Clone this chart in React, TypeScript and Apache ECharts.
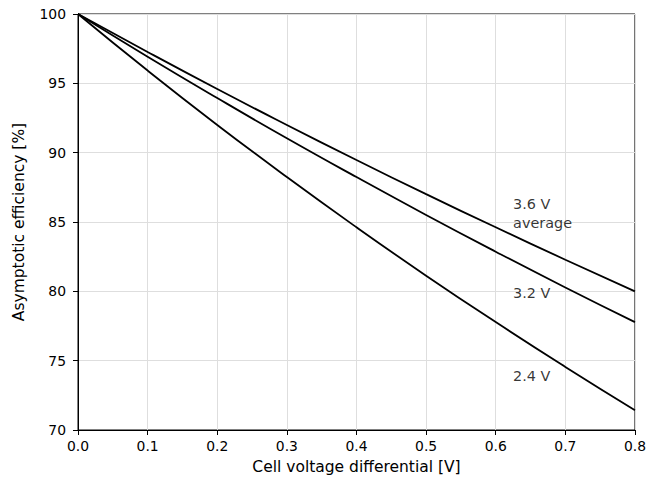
import React, { useEffect, useRef } from "react";
import * as echarts from "echarts";

const xValues = [0, 0.1, 0.2, 0.3, 0.4, 0.5, 0.6, 0.7, 0.8];
const eff36 = [100, 97.26, 94.59, 92.0, 89.47, 87.01, 84.62, 82.28, 80.0];
const eff32 = [100, 96.92, 93.94, 91.04, 88.24, 85.51, 82.86, 80.28, 77.78];
const eff24 = [100, 95.92, 92.0, 88.24, 84.62, 81.13, 77.78, 74.55, 71.43];
const seriesNames = ["3.6 V average", "3.2 V", "2.4 V"];
const labelTexts = ["3.6 V\naverage", "3.2 V", "2.4 V"];
const labelX = [0.625, 0.625, 0.625];
const labelY = [85.6, 79.9, 73.9];

const FONT = "DejaVu Sans";

export default function App() {
  const ref = useRef<HTMLDivElement>(null);
  useEffect(() => {
    if (!ref.current) return;
    const chart = echarts.init(ref.current, null, { renderer: "svg" });
    const allSeries = [eff36, eff32, eff24];
    chart.setOption({
      animation: false,
      backgroundColor: "#ffffff",
      textStyle: { fontFamily: FONT },
      grid: {
        left: 78,
        right: 14,
        top: 14,
        bottom: 55,
        show: true,
        borderColor: "#000",
        borderWidth: 1,
        backgroundColor: "transparent",
      },
      xAxis: {
        type: "value",
        min: 0,
        max: 0.8,
        interval: 0.1,
        name: "Cell voltage differential [V]",
        nameLocation: "middle",
        nameGap: 29,
        nameTextStyle: { fontSize: 15.5, color: "#000", fontFamily: FONT },
        axisLine: { show: true, lineStyle: { color: "#000", width: 1 } },
        axisTick: { show: true, inside: false, length: 5, lineStyle: { color: "#000" } },
        axisLabel: {
          fontSize: 13.9,
          color: "#000",
          margin: 9,
          fontFamily: FONT,
          formatter: (v: number) => v.toFixed(1),
        },
        splitLine: { show: true, lineStyle: { color: "#dedede", width: 1 } },
      },
      yAxis: {
        type: "value",
        min: 70,
        max: 100,
        interval: 5,
        name: "Asymptotic efficiency [%]",
        nameLocation: "middle",
        nameGap: 51,
        nameTextStyle: { fontSize: 15.5, color: "#000", fontFamily: FONT },
        axisLine: { show: true, lineStyle: { color: "#000", width: 1 } },
        axisTick: { show: true, inside: false, length: 5, lineStyle: { color: "#000" } },
        axisLabel: { fontSize: 13.9, color: "#000", margin: 12, fontFamily: FONT },
        splitLine: { show: true, lineStyle: { color: "#dedede", width: 1 } },
      },
      series: [
        ...allSeries.map((vals, i) => ({
          name: seriesNames[i],
          type: "line",
          data: xValues.map((x, j) => [x, vals[j]]),
          showSymbol: false,
          symbol: "none",
          smooth: true,
          lineStyle: { color: "#000", width: 1.8 },
          z: 3,
        })),
        {
          type: "scatter",
          symbolSize: 0,
          silent: true,
          data: labelTexts.map((t, i) => ({ value: [labelX[i], labelY[i]], name: t })),
          label: {
            show: true,
            position: [0, 0],
            align: "left",
            verticalAlign: "middle",
            formatter: (p: any) => p.name,
            fontSize: 14.4,
            lineHeight: 19,
            color: "#000",
            fontFamily: FONT,
          },
          z: 4,
        },
      ],
    });
    return () => chart.dispose();
  }, []);
  return (
    <div
      ref={ref}
      style={{ position: "fixed", left: 0, top: 0, width: 649, height: 485 }}
    />
  );
}
